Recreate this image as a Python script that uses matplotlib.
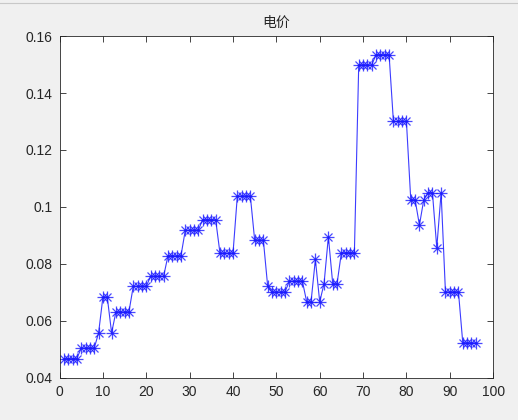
import numpy as np
import matplotlib
matplotlib.use("Agg")
import matplotlib.pyplot as plt

# 96 quarter-hour slots
slots = np.arange(1, 97)
price = ([0.0467] * 4 + [0.0504] * 4 + [0.0557] + [0.0683] * 2 + [0.0557]
         + [0.0631] * 4 + [0.0721] * 4 + [0.0756] * 4 + [0.0828] * 4
         + [0.0918] * 4 + [0.0955] * 4 + [0.0837] * 4 + [0.1038] * 4
         + [0.0883] * 3 + [0.0721] + [0.0701] * 4 + [0.0739] * 4
         + [0.0666] * 2 + [0.0815] + [0.0666] + [0.0730] + [0.0895] + [0.0730] * 2
         + [0.0839] * 4 + [0.1499] * 4 + [0.1535] * 4 + [0.1300] * 4
         + [0.1025] * 2 + [0.0936] + [0.1025] + [0.1050] * 2 + [0.0856] + [0.1050]
         + [0.0701] * 4 + [0.0522] * 4)

xticks = [0, 10, 20, 30, 40, 50, 60, 70, 80, 90, 100]
yticks = [0.04, 0.06, 0.08, 0.1, 0.12, 0.14, 0.16]
ylabels = ["0.04", "0.06", "0.08", "0.1", "0.12", "0.14", "0.16"]
title = "电价"

plt.rcParams['font.family'] = ['Liberation Sans', 'Noto Sans CJK SC', 'DejaVu Sans']

fig = plt.figure(figsize=(5.18, 4.2), dpi=100, facecolor="#f0f0f0")
ax = fig.add_axes([0.115, 0.101, 0.837, 0.813])
blue = "#1a1aff"
# matlab-style '-*' : line plus an asterisk made of '+' and 'x'
ax.plot(slots, price, "-", color=blue, lw=0.8, alpha=0.85)
ax.plot(slots, price, "+", color=blue, ms=8, mew=0.9, alpha=0.8)
ax.plot(slots, price, "x", color=blue, ms=5.5, mew=0.9, alpha=0.8)

ax.set_xlim(0, 100)
ax.set_ylim(0.04, 0.16)
ax.set_xticks(xticks)
ax.set_yticks(yticks)
ax.set_yticklabels(ylabels)
ax.tick_params(direction="in", top=True, right=True, length=4, width=0.6,
               colors="#262626", labelsize=10, pad=5)
for s in ax.spines.values():
    s.set_color("#262626")
    s.set_linewidth(0.6)
ax.set_title(title, fontsize=10, color="#262626",
             family=['Noto Sans CJK SC', 'DejaVu Sans'], pad=7)

fig.add_artist(plt.Line2D([0, 1], [0.993, 0.993], color="#c8c8c8", lw=0.8))
fig.savefig("out.png", dpi=100, facecolor=fig.get_facecolor())
